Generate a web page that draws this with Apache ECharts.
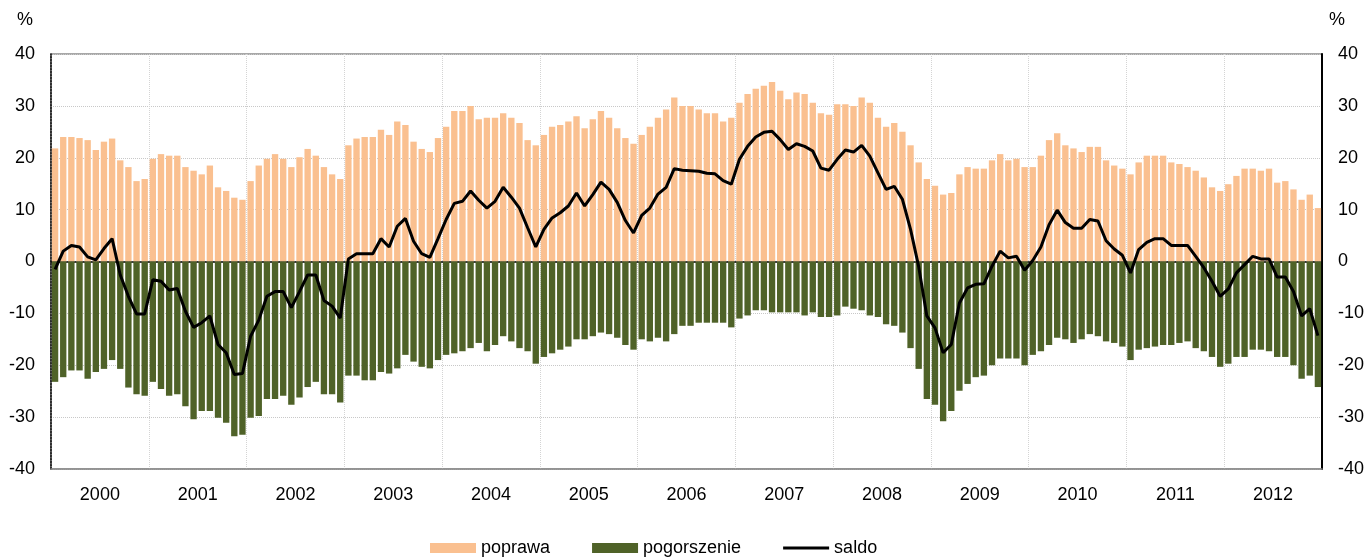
<!DOCTYPE html>
<html>
<head>
<meta charset="utf-8">
<script src="https://cdn.jsdelivr.net/npm/echarts@6/dist/echarts.min.js"></script>
<style>
html,body{margin:0;padding:0;background:#fff;}
#chart{width:1367px;height:558px;}
</style>
</head>
<body>
<div id="chart"></div>
<script>
const years = ['2000','2001','2002','2003','2004','2005','2006','2007','2008','2009','2010','2011','2012'];

const poprawa = [
 21.8, 24.0, 24.0, 23.8, 23.4, 21.5, 23.1, 23.7, 19.5, 18.2, 15.5, 15.9,
 19.8, 20.7, 20.4, 20.4, 18.2, 17.5, 16.8, 18.5, 14.3, 13.6, 12.3, 11.9,
 15.5, 18.5, 19.8, 20.7, 19.8, 18.2, 20.1, 21.7, 20.4, 18.2, 16.8, 15.9,
 22.4, 23.7, 24.0, 24.0, 25.4, 24.4, 27.0, 26.3, 23.1, 21.7, 21.1, 23.8,
 26.0, 29.0, 29.0, 30.0, 27.4, 27.7, 27.7, 28.6, 27.7, 26.7, 23.4, 22.4,
 24.4, 26.0, 26.3, 27.0, 28.0, 25.7, 27.4, 29.0, 27.7, 25.7, 23.8, 22.7,
 24.4, 26.0, 27.7, 29.3, 31.6, 30.0, 30.0, 29.3, 28.6, 28.6, 27.0, 27.7,
 30.6, 32.3, 33.3, 33.9, 34.6, 32.9, 31.3, 32.6, 32.3, 30.6, 28.6, 28.3,
 30.3, 30.3, 30.0, 31.6, 30.6, 27.7, 26.0, 26.7, 25.0, 22.4, 19.1, 15.9,
 14.6, 12.9, 13.2, 16.8, 18.2, 17.9, 17.9, 19.5, 20.7, 19.5, 19.8, 18.2,
 18.2, 20.4, 23.4, 24.7, 22.4, 21.8, 21.1, 22.1, 22.1, 19.5, 18.5, 17.9,
 16.8, 19.1, 20.4, 20.4, 20.4, 19.1, 18.8, 18.2, 17.5, 16.2, 14.3, 13.6,
 14.9, 16.5, 17.9, 17.9, 17.5, 17.9, 15.2, 15.5, 13.9, 11.9, 12.9, 10.3
];

const pogorszenie = [
 -23.2, -22.3, -21.0, -21.0, -22.6, -21.3, -20.7, -19.0, -20.7, -24.3, -25.6, -25.9,
 -23.2, -24.6, -25.9, -25.6, -27.9, -30.4, -28.8, -28.8, -30.1, -31.1, -33.7, -33.4,
 -30.1, -29.8, -26.5, -26.5, -25.9, -27.6, -26.2, -24.2, -23.2, -25.6, -25.6, -27.2,
 -22.0, -22.0, -22.9, -22.9, -21.3, -21.6, -20.6, -18.0, -19.3, -20.3, -20.6, -19.0,
 -18.0, -17.7, -17.3, -16.7, -15.7, -17.3, -16.1, -14.4, -15.4, -16.7, -17.3, -19.7,
 -18.4, -17.7, -17.0, -16.4, -15.0, -15.0, -14.4, -13.7, -14.0, -14.7, -16.1, -17.0,
 -15.0, -15.4, -14.7, -15.4, -14.0, -12.4, -12.4, -11.8, -11.8, -11.8, -11.8, -12.7,
 -11.0, -10.4, -9.4, -9.4, -9.8, -9.8, -9.8, -9.8, -10.4, -9.8, -10.7, -10.7,
 -10.4, -8.7, -9.1, -9.4, -10.4, -10.7, -12.1, -12.4, -13.7, -16.7, -20.7, -26.5,
 -27.6, -30.8, -28.8, -24.9, -23.6, -22.3, -22.0, -20.0, -18.7, -18.7, -18.7, -20.0,
 -18.0, -17.3, -16.1, -14.7, -15.0, -15.7, -15.0, -14.0, -14.4, -15.4, -15.7, -16.4,
 -19.0, -17.0, -16.7, -16.4, -16.1, -16.1, -15.7, -15.4, -16.7, -17.3, -18.4, -20.3,
 -19.7, -18.4, -18.4, -17.0, -17.0, -17.3, -18.4, -18.4, -20.0, -22.6, -22.0, -24.2
];

const saldo = [
 -1.5, 2.0, 3.1, 2.8, 0.9, 0.3, 2.5, 4.4, -2.6, -6.7, -10.1, -10.1,
 -3.5, -3.8, -5.5, -5.2, -9.6, -12.7, -11.8, -10.5, -16.0, -17.6, -21.8, -21.6,
 -14.4, -11.3, -6.7, -5.8, -5.8, -8.9, -5.8, -2.6, -2.6, -7.5, -8.6, -10.9,
 0.5, 1.5, 1.5, 1.5, 4.4, 2.8, 6.8, 8.3, 3.9, 1.5, 0.8, 4.4,
 8.1, 11.2, 11.6, 13.6, 11.8, 10.3, 11.6, 14.3, 12.4, 10.3, 6.5, 2.8,
 6.2, 8.4, 9.4, 10.7, 13.2, 10.7, 12.9, 15.3, 13.9, 11.4, 7.9, 5.5,
 8.9, 10.3, 13.0, 14.3, 17.9, 17.6, 17.5, 17.4, 17.0, 16.9, 15.6, 14.9,
 19.7, 22.2, 24.0, 24.9, 25.1, 23.5, 21.6, 22.7, 22.2, 21.3, 18.0, 17.6,
 19.7, 21.5, 21.1, 22.4, 20.3, 17.1, 13.9, 14.5, 12.0, 6.2, -1.0, -10.5,
 -12.8, -17.6, -16.0, -8.0, -5.1, -4.4, -4.3, -0.9, 2.0, 0.7, 1.0, -1.7,
 0.2, 2.8, 7.1, 9.9, 7.5, 6.4, 6.4, 8.1, 7.8, 4.0, 2.4, 1.2,
 -2.2, 2.3, 3.7, 4.4, 4.4, 3.1, 3.1, 3.1, 1.0, -1.2, -3.8, -6.7,
 -5.3, -2.2, -0.6, 1.0, 0.5, 0.5, -3.0, -3.0, -5.8, -10.5, -9.1, -14.3
];

const months = [];
years.forEach(function (y) {
  for (let m = 1; m <= 12; m++) months.push(y + '-' + (m < 10 ? '0' + m : m));
});

const FONT = '"Liberation Sans", Arial, sans-serif';
const ORANGE = '#FAC090';
const GREEN = '#4F6228';

const chart = echarts.init(document.getElementById('chart'), null, {renderer: 'canvas'});
chart.setOption({
  animation: false,
  backgroundColor: '#fff',
  textStyle: {fontFamily: FONT},
  grid: {
    left: 51, right: 43, top: 54, bottom: 89,
    show: true, borderColor: '#8c8c8c', borderWidth: 1.5, backgroundColor: 'transparent'
  },
  graphic: [
    {type: 'text', left: 17, top: 11, style: {text: '%', fontSize: 18, fill: '#000', fontFamily: FONT}},
    {type: 'text', right: 22, top: 11, style: {text: '%', fontSize: 18, fill: '#000', fontFamily: FONT}}
  ],
  legend: {
    left: 425, top: 534,
    itemWidth: 46, itemHeight: 10, itemGap: 42,
    textStyle: {fontSize: 18, color: '#000', fontFamily: FONT},
    data: [
      {name: 'poprawa', icon: 'rect'},
      {name: 'pogorszenie', icon: 'rect'},
      {name: 'saldo', icon: 'path://M0,0L46,0L46,3L0,3Z'}
    ]
  },
  xAxis: [
    {
      type: 'category', data: months, position: 'bottom', boundaryGap: true,
      axisLine: {show: true, onZero: true, lineStyle: {color: '#000', width: 1.5}},
      axisTick: {show: false}, axisLabel: {show: false}, splitLine: {show: false}
    },
    {
      type: 'category', data: years, position: 'bottom', boundaryGap: true,
      axisLine: {show: true, onZero: false, lineStyle: {color: '#8c8c8c', width: 1.5}},
      axisTick: {show: false},
      axisLabel: {color: '#000', fontSize: 18, margin: 17, fontFamily: FONT},
      splitLine: {show: true, interval: 0, lineStyle: {color: '#d4d4d4', type: 'dotted', width: 1}}
    }
  ],
  yAxis: [
    {
      type: 'value', min: -40, max: 40, interval: 10, position: 'left',
      axisLine: {show: true, lineStyle: {color: '#000', type: 'dotted', width: 1.5}},
      axisTick: {show: false},
      axisLabel: {color: '#000', fontSize: 18, margin: 16, fontFamily: FONT},
      splitLine: {show: true, lineStyle: {color: '#c8c8c8', type: 'dotted', width: 1}}
    },
    {
      type: 'value', min: -40, max: 40, interval: 10, position: 'right',
      axisLine: {show: true, lineStyle: {color: '#000', width: 2}},
      axisTick: {show: false},
      axisLabel: {color: '#000', fontSize: 18, margin: 16, fontFamily: FONT},
      splitLine: {show: false}
    }
  ],
  series: [
    {
      name: 'poprawa', type: 'bar', xAxisIndex: 0, yAxisIndex: 0,
      data: poprawa, barWidth: '78%', barGap: '-100%',
      itemStyle: {color: ORANGE}
    },
    {
      name: 'pogorszenie', type: 'bar', xAxisIndex: 0, yAxisIndex: 0,
      data: pogorszenie, barWidth: '78%', barGap: '-100%',
      itemStyle: {color: GREEN}
    },
    {
      name: 'saldo', type: 'line', xAxisIndex: 0, yAxisIndex: 0,
      data: saldo, symbol: 'none', z: 5,
      itemStyle: {color: '#000'},
      lineStyle: {color: '#000', width: 3}
    }
  ]
});
</script>
</body>
</html>
